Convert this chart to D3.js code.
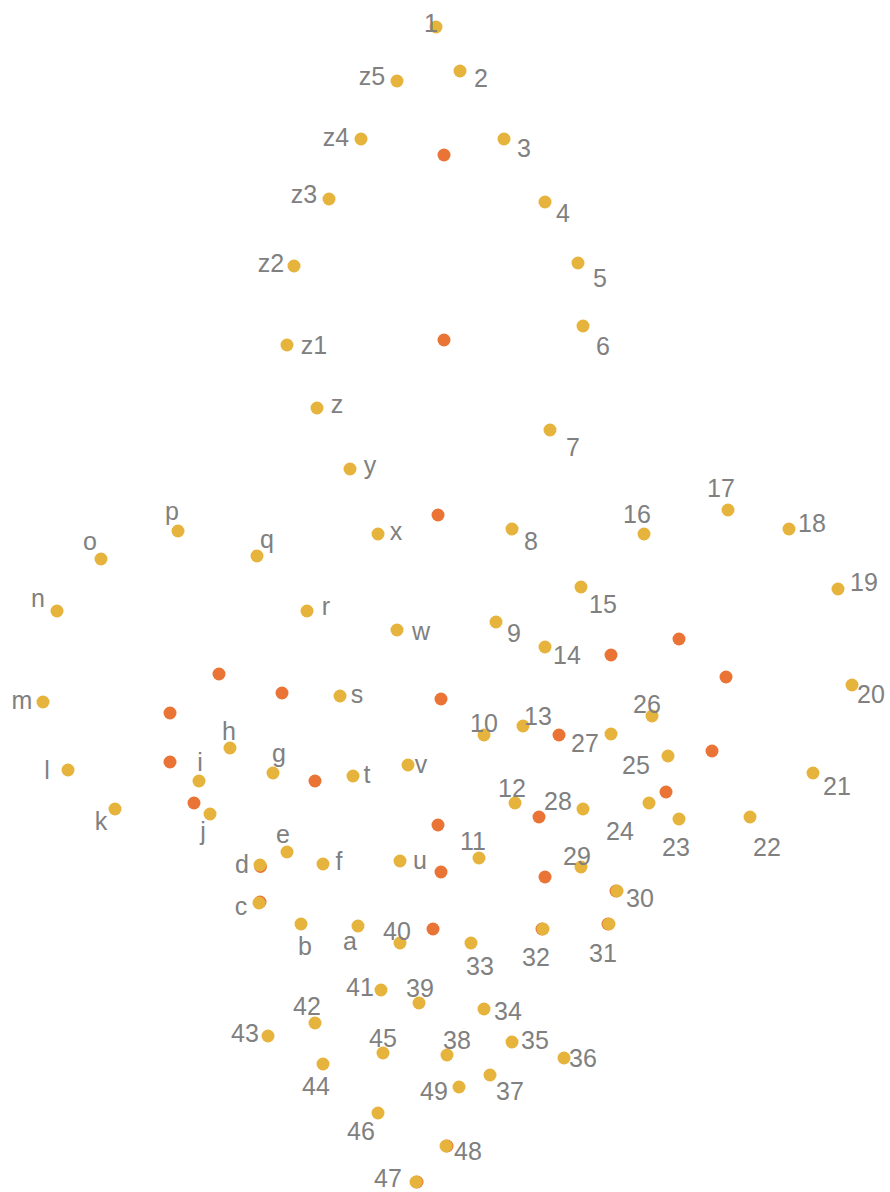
<!DOCTYPE html>
<html>
<head>
<meta charset="utf-8">
<script src="https://cdn.jsdelivr.net/npm/d3@7"></script>
<style>
html,body{margin:0;padding:0;background:#fff;}
svg{display:block;}
</style>
</head>
<body>
<svg id="chart" width="890" height="1192"></svg>
<script>
// ---- data (plot units: x to the right, y downward) ----
const pointLabels = ["1","2","3","4","5","6","7","8","9","10","11","12","13","14","15","16","17","18","19","20",
  "21","22","23","24","25","26","27","28","29","30","31","32","33","34","35","36","37","38","39","40",
  "41","42","43","44","45","46","47","48","49",
  "a","b","c","d","e","f","g","h","i","j","k","l","m","n","o","p","q","r","s","t","u","v","w","x","y","z",
  "z1","z2","z3","z4","z5"];
const pointX = [436,460,504,545,578,583,550,512,496,484,479,515,523,545,581,644,728,789,838,852,
  813,750,679,649,668,652,611,583,581,617,609,543,471,484,512,564,490,447,419,400,
  381,315,268,323,383,378,416,446,459,
  358,301,259,260,287,323,273,230,199,210,115,68,43,57,101,178,257,307,340,353,400,408,397,378,350,317,
  287,294,329,361,397];
const pointY = [27,71,139,202,263,326,430,529,622,735,858,803,726,647,587,534,510,529,589,685,
  773,817,819,803,756,716,734,809,867,891,924,929,943,1009,1042,1058,1075,1055,1003,943,
  990,1023,1036,1064,1053,1113,1182,1146,1087,
  926,924,903,865,852,864,773,748,781,814,809,770,702,611,559,531,556,611,696,776,861,765,630,534,469,408,
  345,266,199,139,81];

const extraX = [444,444,438,219,282,170,170,194,315,441,559,539,438,441,545,679,611,726,712,666,433,
  260.5,260,616,542,608,447,417];
const extraY = [155,340,515,674,693,713,762,803,781,699,735,817,825,872,877,639,655,677,751,792,929,
  866.5,902,891,929,924,1146,1182];

// ---- label layout (offset of label centre / baseline from its point, px) ----
const labelDX = [-5,21,20,18,22,20,23,19,18,0,-6,-3,15,22,22,-7,-7,23,26,19,
  24,17,-3,-29,-32,-5,-26,-25,-4,23,-6,-7,9,24,23,19,20,10,1,-3,
  -21,-8,-23,-7,0,-17,-28,22,-25,
  -8,4,-18,-18,-4,16,6,-1,1,-7,-14,-21,-21,-19,-11,-6,10,19,17,14,20,13,24,18,20,20,
  27,-23,-25,-25,-25];
const labelDY = [5,16,18,20,24,29,26,21,20,-3,-8,-6,-1,17,26,-11,-13,3,2,18,
  22,39,37,37,18,-3,18,1,-2,16,38,37,32,11,7,9,25,-6,-6,-3,
  6,-8,6,31,-6,27,5,14,13,
  24,31,12,8,-9,6,-11,-8,-10,26,21,9,7,-4,-9,-11,-8,4,7,7,8,8,10,6,5,5,
  9,6,4,7,4];

const W = 890, H = 1192;
const x = d3.scaleLinear().domain([0, 890]).range([0, W]);
const y = d3.scaleLinear().domain([0, 1192]).range([0, H]);

const svg = d3.select("#chart");

const extras = extraX.map((v, i) => ({x: v, y: extraY[i]}));
const pts = pointLabels.map((l, i) => ({label: l, x: pointX[i], y: pointY[i], dx: labelDX[i], dy: labelDY[i]}));

svg.append("g").selectAll("circle").data(extras).join("circle")
  .attr("cx", d => x(d.x)).attr("cy", d => y(d.y)).attr("r", 6.5)
  .attr("fill", "#E97435");

svg.append("g").selectAll("circle").data(pts).join("circle")
  .attr("cx", d => x(d.x)).attr("cy", d => y(d.y)).attr("r", 6.5)
  .attr("fill", "#E6B43C");

svg.append("g").selectAll("text").data(pts).join("text")
  .attr("x", d => x(d.x) + d.dx).attr("y", d => y(d.y) + d.dy)
  .attr("text-anchor", "middle")
  .attr("font-family", "'Liberation Sans', Arial, sans-serif")
  .attr("font-size", 25)
  .attr("fill", "#808080")
  .text(d => d.label);
</script>
</body>
</html>
